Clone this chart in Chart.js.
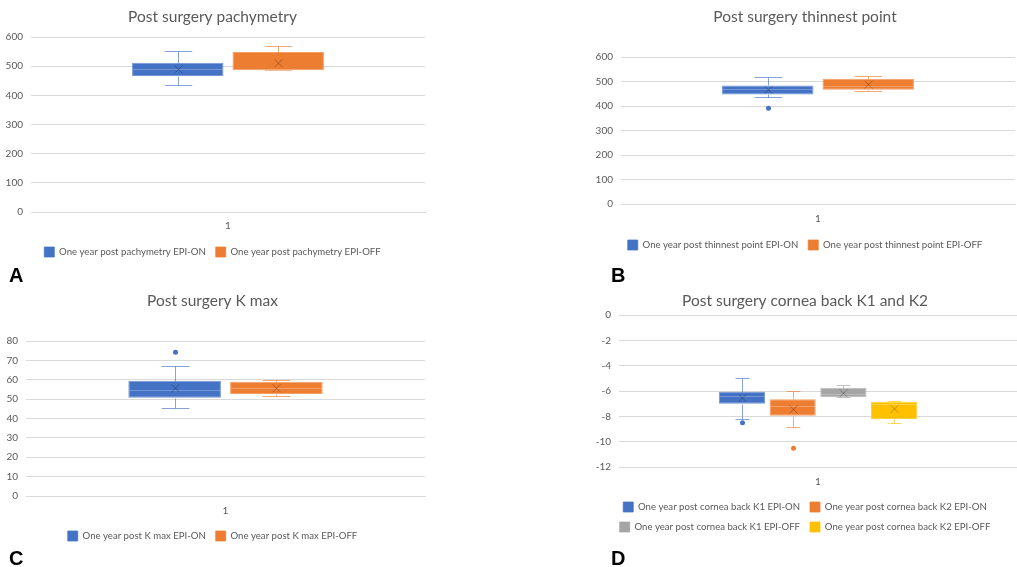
<!DOCTYPE html>
<html>
<head>
<meta charset="utf-8">
<title>Post surgery outcomes</title>
<script src="https://cdn.jsdelivr.net/npm/chart.js@4/dist/chart.umd.min.js"></script>
<style>
  html, body { margin: 0; padding: 0; background: #fff; width: 1017px; height: 567px; overflow: hidden; }
  canvas { position: absolute; }
  .tag { position: absolute; font: bold 20px "Liberation Sans", Arial, sans-serif; color: #000; line-height: 20px; }
</style>
</head>
<body>
<canvas id="chartA" width="434" height="267" style="left:0;top:0"></canvas>
<canvas id="chartB" width="428" height="260" style="left:595px;top:0"></canvas>
<canvas id="chartC" width="436" height="271" style="left:0;top:280px"></canvas>
<canvas id="chartD" width="429" height="262" style="left:593px;top:280px"></canvas>
<div class="tag" style="left:9px;top:265px">A</div>
<div class="tag" style="left:611px;top:265px">B</div>
<div class="tag" style="left:9px;top:548px">C</div>
<div class="tag" style="left:611px;top:548px">D</div>

<script>
// Shared category and series colours
const categories = ['1'];
const seriesColors = ['#4472C4', '#ED7D31', '#A5A5A5', '#FFC000'];

// A: pachymetry (µm)
const pachyNames   = ['One year post pachymetry EPI-ON', 'One year post pachymetry EPI-OFF'];
const pachyMin     = [435, 486];
const pachyQ1      = [466, 486];
const pachyMedian  = [492, 488];
const pachyQ3      = [512, 549];
const pachyMax     = [552, 569];
const pachyMean    = [489, 510];
const pachyOutliers = [[], []];
const pachyAxis    = [0, 600, 100];

// B: thinnest point (µm)
const thinNames    = ['One year post thinnest point EPI-ON', 'One year post thinnest point EPI-OFF'];
const thinMin      = [435, 462];
const thinQ1       = [447, 466];
const thinMedian   = [469, 483];
const thinQ3       = [484, 511];
const thinMax      = [518, 522];
const thinMean     = [466, 487];
const thinOutliers = [[391], []];
const thinAxis     = [0, 600, 100];

// C: K max (D)
const kmaxNames    = ['One year post K max EPI-ON', 'One year post K max EPI-OFF'];
const kmaxMin      = [45.2, 51.7];
const kmaxQ1       = [50.7, 52.6];
const kmaxMedian   = [54.7, 55.5];
const kmaxQ3       = [59.5, 59.0];
const kmaxMax      = [67.3, 59.9];
const kmaxMean     = [55.6, 55.6];
const kmaxOutliers = [[74.2], []];
const kmaxAxis     = [0, 80, 10];

// D: posterior cornea K1 / K2 (D)
const backNames    = ['One year post cornea back K1 EPI-ON', 'One year post cornea back K2 EPI-ON',
                      'One year post cornea back K1 EPI-OFF', 'One year post cornea back K2 EPI-OFF'];
const backMin      = [-8.21, -8.82, -6.50, -8.50];
const backQ1       = [-7.00, -7.95, -6.50, -8.21];
const backMedian   = [-6.40, -7.15, -6.25, -7.05];
const backQ3       = [-6.05, -6.66, -5.74, -6.84];
const backMax      = [-5.00, -6.00, -5.55, -6.79];
const backMean     = [-6.55, -7.45, -6.18, -7.42];
const backOutliers = [[-8.5], [-10.52], [], []];
const backAxis     = [-12, 0, 2];

const FONT = 'Lato, "Open Sans", sans-serif';
const TEXT = '#595959';
const GRID = '#d9d9d9';

function withAlpha(hex, a) {
  const n = parseInt(hex.slice(1), 16);
  return `rgba(${(n >> 16) & 255},${(n >> 8) & 255},${n & 255},${a})`;
}

// Draws whiskers, median, mean marker and outliers on top of the floating-bar boxes
const boxWhisker = {
  id: 'boxWhisker',
  afterDatasetsDraw(chart) {
    const ctx = chart.ctx;
    const ys = chart.scales.y;
    const px = v => Math.round(ys.getPixelForValue(v)) + 0.5;
    chart.data.datasets.forEach((ds, i) => {
      const meta = chart.getDatasetMeta(i);
      if (meta.hidden || !meta.data.length) return;
      const bar = meta.data[0];
      const cx = Math.round(bar.x) + 0.5;
      const w = bar.width;
      const s = ds.stats;
      const [q1, q3] = ds.data[0];
      const cap = w * 0.15;
      ctx.save();
      ctx.lineWidth = 1;
      ctx.strokeStyle = withAlpha(ds.baseColor, 0.65);
      ctx.beginPath();
      if (s.max > q3) {
        ctx.moveTo(cx, px(q3)); ctx.lineTo(cx, px(s.max));
      }
      ctx.moveTo(cx - cap, px(s.max)); ctx.lineTo(cx + cap, px(s.max));
      if (s.min < q1) {
        ctx.moveTo(cx, px(q1)); ctx.lineTo(cx, px(s.min));
      }
      ctx.moveTo(cx - cap, px(s.min)); ctx.lineTo(cx + cap, px(s.min));
      ctx.stroke();
      // median
      ctx.strokeStyle = withAlpha('#ffffff', 0.25);
      ctx.beginPath();
      ctx.moveTo(bar.x - w / 2 + 1, px(s.median));
      ctx.lineTo(bar.x + w / 2 - 1, px(s.median));
      ctx.stroke();
      // mean marker
      const my = ys.getPixelForValue(s.mean);
      const r = 4;
      ctx.strokeStyle = withAlpha('#000000', 0.25);
      ctx.beginPath();
      ctx.moveTo(cx - r, my - r); ctx.lineTo(cx + r, my + r);
      ctx.moveTo(cx + r, my - r); ctx.lineTo(cx - r, my + r);
      ctx.stroke();
      // outliers
      ctx.fillStyle = ds.baseColor;
      s.outliers.forEach(v => {
        ctx.beginPath();
        ctx.arc(cx, ys.getPixelForValue(v), 2.5, 0, Math.PI * 2);
        ctx.fill();
      });
      ctx.restore();
    });
  }
};

function makeBoxChart(id, cfg) {
  const datasets = cfg.names.map((name, i) => ({
    label: name,
    data: [[cfg.q1[i], cfg.q3[i]]],
    backgroundColor: seriesColors[i],
    borderColor: withAlpha(seriesColors[i], 0.75),
    borderWidth: 1,
    borderSkipped: false,
    categoryPercentage: 0.51,
    barPercentage: 0.91,
    baseColor: seriesColors[i],
    stats: { min: cfg.min[i], median: cfg.median[i], max: cfg.max[i], mean: cfg.mean[i], outliers: cfg.outliers[i] }
  }));
  const [yMin, yMax, yStep] = cfg.axis;
  return new Chart(document.getElementById(id), {
    type: 'bar',
    data: { labels: categories, datasets },
    plugins: [boxWhisker],
    options: {
      responsive: false,
      animation: false,
      devicePixelRatio: 1,
      layout: { padding: { left: 0, right: cfg.padRight, top: 0, bottom: 0 } },
      plugins: {
        tooltip: { enabled: false },
        title: {
          display: true,
          text: cfg.title,
          color: TEXT,
          font: { family: FONT, size: 15.5, weight: 'normal' },
          padding: { top: cfg.titlePad[0], bottom: cfg.titlePad[1] }
        },
        legend: {
          position: 'bottom',
          labels: {
            color: TEXT,
            font: { family: FONT, size: 9.6 },
            boxWidth: 10,
            boxHeight: 10,
            padding: 10
          }
        }
      },
      scales: {
        x: {
          grid: { display: false, drawTicks: false },
          border: { color: GRID },
          ticks: { color: TEXT, font: { family: FONT, size: 10 }, padding: cfg.xPad },
          afterFit: s => { s.height = cfg.xHeight; }
        },
        y: {
          min: yMin,
          max: yMax,
          grid: { color: GRID, drawTicks: false },
          border: { display: false },
          ticks: { stepSize: yStep, color: TEXT, font: { family: FONT, size: 10 }, padding: 8 },
          afterFit: s => { s.width = cfg.yWidth; }
        }
      }
    }
  });
}

makeBoxChart('chartA', {
  title: 'Post surgery pachymetry', names: pachyNames,
  min: pachyMin, q1: pachyQ1, median: pachyMedian, q3: pachyQ3, max: pachyMax, mean: pachyMean,
  outliers: pachyOutliers, axis: pachyAxis,
  titlePad: [7.7, 10.7], xPad: 8, xHeight: 25, yWidth: 31, padRight: 9
});
makeBoxChart('chartB', {
  title: 'Post surgery thinnest point', names: thinNames,
  min: thinMin, q1: thinQ1, median: thinMedian, q3: thinQ3, max: thinMax, mean: thinMean,
  outliers: thinOutliers, axis: thinAxis,
  titlePad: [7.7, 30.7], xPad: 9, xHeight: 26, yWidth: 26, padRight: 8
});
makeBoxChart('chartC', {
  title: 'Post surgery K max', names: kmaxNames,
  min: kmaxMin, q1: kmaxQ1, median: kmaxMedian, q3: kmaxQ3, max: kmaxMax, mean: kmaxMean,
  outliers: kmaxOutliers, axis: kmaxAxis,
  titlePad: [11.7, 30.7], xPad: 9, xHeight: 25, yWidth: 26, padRight: 11
});
makeBoxChart('chartD', {
  title: 'Post surgery cornea back K1 and K2', names: backNames,
  min: backMin, q1: backQ1, median: backMedian, q3: backQ3, max: backMax, mean: backMean,
  outliers: backOutliers, axis: backAxis,
  titlePad: [11.7, 4.7], xPad: 9, xHeight: 25, yWidth: 26, padRight: 5
});
</script>
</body>
</html>
